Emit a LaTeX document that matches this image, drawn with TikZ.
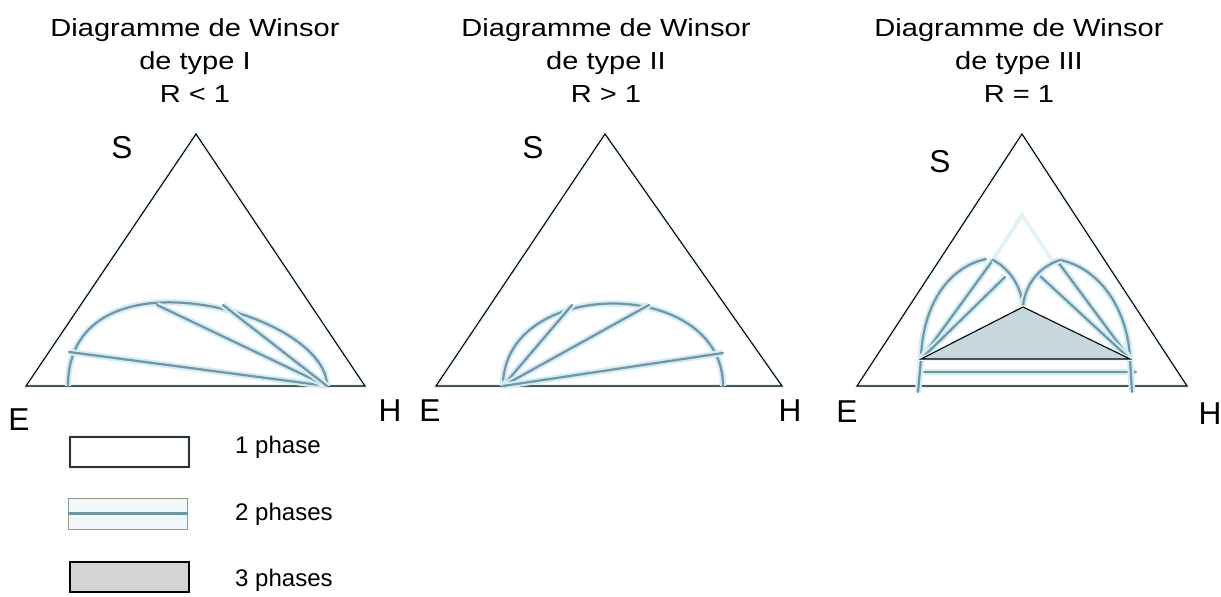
\documentclass[tikz,border=0pt]{standalone}
\usepackage{fontspec}
\setmainfont{Liberation Sans}
\definecolor{tiecol}{RGB}{108,152,168}
\definecolor{glowcol}{RGB}{214,236,244}
\definecolor{threecol}{RGB}{198,215,221}
\definecolor{legframe}{RGB}{150,150,130}
\tikzset{
  tri/.style={draw=black, line width=0.9pt, line join=miter, preaction={draw=glowcol!60, line width=3pt}},
  tie/.style={draw=tiecol, line width=1.9pt, line cap=round, preaction={draw=glowcol, line width=5.5pt}},
  ghost/.style={draw=glowcol!70, line width=3.5pt, line cap=round},
  lbl/.style={font=\fontsize{27}{30}\selectfont, inner sep=0pt},
  title/.style={font=\fontsize{24.8}{33.6}\selectfont, align=center, anchor=base, yscale=0.85, transform shape, inner sep=0pt},
  legtext/.style={font=\fontsize{20.5}{24}\selectfont, anchor=base west, inner sep=0pt}
}
\begin{document}
\begin{tikzpicture}[x=0.03cm, y=-0.03cm]
\useasboundingbox (0,0) rectangle (1221,597);
% titles
\node[title] (t1) at (195,103) {Diagramme de Winsor\\de type I\\R < 1};
\node[title] (t2) at (606,103) {Diagramme de Winsor\\de type II\\R > 1};
\node[title] (t3) at (1019,103) {Diagramme de Winsor\\de type III\\R = 1};

% type I
\coordinate (e1) at (26,386);
\coordinate (h1) at (365,386);
\coordinate (s1) at (196,134);
\coordinate (p1) at (327,386);
\draw[tri] (e1) -- (h1) -- (s1) -- cycle;
\draw[tie] (68,386) .. controls (68,243) and (327,311) .. (p1);
\draw[tie] (69,352) -- (p1);
\draw[tie] (157,305) -- (p1);
\draw[tie] (223,305) -- (p1);
\node[lbl] (S1) at (122,148) {S};
\node[lbl] (E1) at (19,420) {E};
\node[lbl] (H1) at (390,411) {H};

% type II
\coordinate (e2) at (436,386);
\coordinate (h2) at (782,386);
\coordinate (s2) at (605,134);
\coordinate (p2) at (503,386);
\draw[tri] (e2) -- (h2) -- (s2) -- cycle;
\draw[tie] (p2) .. controls (503,276) and (723,276) .. (723,386);
\draw[tie] (p2) -- (572,305);
\draw[tie] (p2) -- (649,305);
\draw[tie] (p2) -- (723,353);
\node[lbl] (S2) at (533,148) {S};
\node[lbl] (E2) at (430,411) {E};
\node[lbl] (H2) at (790,411) {H};

% type III
\coordinate (e3) at (857,386);
\coordinate (h3) at (1187,386);
\coordinate (s3) at (1022,134);
\coordinate (L) at (921,359);
\coordinate (R) at (1130,359);
\coordinate (T) at (1023,307);
\draw[tri] (e3) -- (h3) -- (s3) -- cycle;
\draw[ghost] (993,260) -- (1022,215) -- (1052,260);
\draw[tie] (924,372) -- (1136,372);
\draw[tie] (918,392) -- (L) .. controls (922,310) and (945,268) .. (986,259);
\draw[tie] (L) -- (993,260);
\draw[tie] (L) -- (1005,277);
\draw[tie] (993,260) .. controls (1012,270) and (1022,290) .. (T);
\draw[tie] (1132,392) -- (R) .. controls (1128,310) and (1100,268) .. (1060,260);
\draw[tie] (R) -- (1058,262);
\draw[tie] (R) -- (1040,276);
\draw[tie] (1060,260) .. controls (1035,268) and (1024,290) .. (T);
\draw[tri, fill=threecol] (L) -- (T) -- (R) -- cycle;
\node[lbl] (S3) at (940,162) {S};
\node[lbl] (E3) at (847,412) {E};
\node[lbl] (H3) at (1210,414) {H};

% legend
\draw[draw=black!80, line width=0.9pt, preaction={draw=glowcol!60, line width=3pt}] (70,437) rectangle (189,467);
\draw[draw=legframe, line width=0.8pt, fill=glowcol!35] (68,498) rectangle (187,529);
\draw[draw=tiecol, line width=2pt] (68,513.5) -- (187,513.5);
\draw[draw=black, line width=0.9pt, fill=black!17] (70,562) rectangle (189,592);
\node[legtext] (l1) at (235,453) {1 phase};
\node[legtext] (l2) at (235,520) {2 phases};
\node[legtext] (l3) at (235,586) {3 phases};
\end{tikzpicture}
\end{document}
